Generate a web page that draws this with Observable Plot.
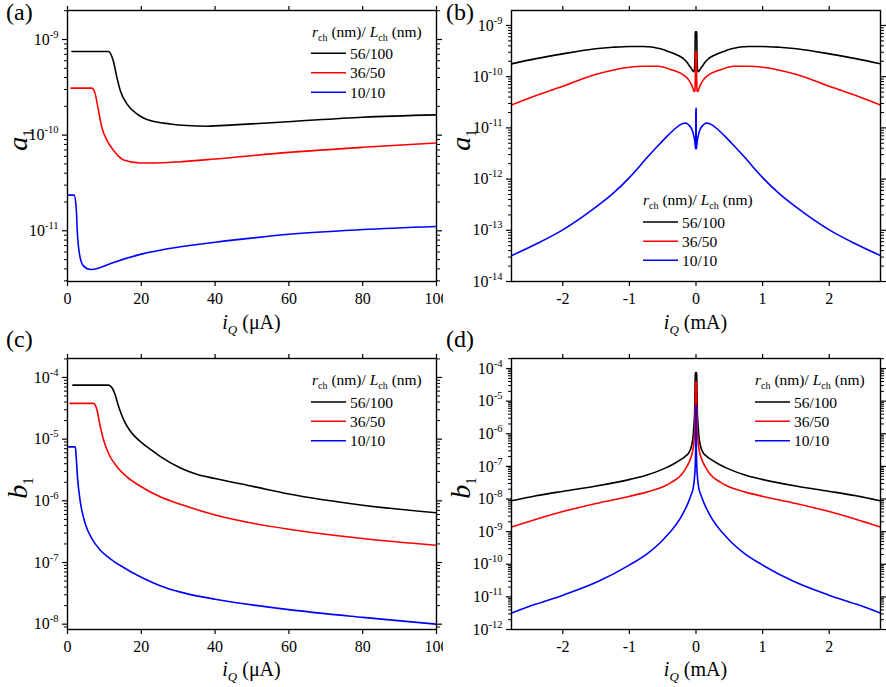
<!DOCTYPE html>
<html><head><meta charset="utf-8">
<script src="https://cdn.jsdelivr.net/npm/d3@7"></script>
<script src="https://cdn.jsdelivr.net/npm/@observablehq/plot@0.6"></script>
<style>
body{margin:0;background:#fff;}
#fig{position:relative;width:886px;height:687px;font-family:'Liberation Serif','Tinos','Times New Roman','DejaVu Serif',serif;background:#fff;}
#fig > div{position:absolute;}
#fig svg, #fig svg text{font-family:'Liberation Serif','Tinos','Times New Roman','DejaVu Serif',serif !important;}
#ann{position:absolute;left:0;top:0;pointer-events:none;}
</style></head><body><div id="fig"></div>
<script>
// ---------------- data ----------------
const seriesNames = ["56/100", "36/50", "10/10"];
const seriesColors = ["#000000", "#ff0000", "#0000ff"];

// (a) a1 vs iQ (µA)
const a_56 = [[1.2,7.5e-10],[11.1,7.5e-10],[12.4,6.0e-10],[13.4,4.0e-10],[14.3,2.93e-10],[16.1,2.12e-10],[18.8,1.67e-10],[22.4,1.42e-10],[27.8,1.31e-10],[32.4,1.26e-10],[37.8,1.24e-10],[45,1.28e-10],[59.5,1.38e-10],[80,1.54e-10],[100,1.63e-10]];
const a_36 = [[1.0,3.1e-10],[6.6,3.1e-10],[7.5,2.7e-10],[8.4,1.81e-10],[9.3,1.21e-10],[10.7,8.8e-11],[12.5,6.9e-11],[15.2,5.5e-11],[19.7,5.12e-11],[23.3,5.12e-11],[30.6,5.28e-11],[40,5.63e-11],[60,6.6e-11],[80,7.46e-11],[100,8.28e-11]];
const a_10 = [[0.3,2.36e-11],[1.8,2.36e-11],[2.35,1.75e-11],[2.7,9.2e-12],[3.25,5.7e-12],[4.3,4.3e-12],[6.3,3.94e-12],[8.9,4.13e-12],[12.5,4.67e-12],[20,5.7e-12],[30.6,6.8e-12],[40,7.6e-12],[50,8.4e-12],[60,9.2e-12],[80,1.03e-11],[100,1.11e-11]];

// (b) a1 vs iQ (mA), positive half (curve is symmetric about 0)
const b_56 = [[0.001,7.5e-10],[0.011,7.5e-10],[0.0124,6.0e-10],[0.0134,4.0e-10],[0.0143,2.9e-10],[0.0161,2.1e-10],[0.0188,1.67e-10],[0.0224,1.42e-10],[0.0278,1.31e-10],[0.037,1.25e-10],[0.05,1.3e-10],[0.07,1.45e-10],[0.1,1.63e-10],[0.135,1.92e-10],[0.2,2.3e-10],[0.285,2.66e-10],[0.4,3.05e-10],[0.535,3.5e-10],[0.785,3.89e-10],[1.0,3.89e-10],[1.25,3.75e-10],[1.51,3.5e-10],[2.0,2.79e-10],[2.4,2.25e-10],[2.77,1.78e-10]];
const b_36 = [[0.001,3.1e-10],[0.0066,3.1e-10],[0.0075,2.7e-10],[0.0084,1.81e-10],[0.0093,1.21e-10],[0.0107,8.8e-11],[0.0125,6.9e-11],[0.0152,5.5e-11],[0.0197,5.12e-11],[0.0233,5.12e-11],[0.0306,5.28e-11],[0.04,5.63e-11],[0.06,6.6e-11],[0.08,7.46e-11],[0.1,8.28e-11],[0.185,1.07e-10],[0.335,1.32e-10],[0.585,1.6e-10],[0.8,1.6e-10],[1.0,1.53e-10],[1.51,1.1e-10],[2.0,6.5e-11],[2.4,4.3e-11],[2.77,2.8e-11]];
const b_10 = [[0.0003,2.4e-11],[0.0018,2.4e-11],[0.00235,1.75e-11],[0.0027,9.2e-12],[0.00325,5.7e-12],[0.0043,4.3e-12],[0.0063,3.94e-12],[0.0089,4.13e-12],[0.0125,4.67e-12],[0.02,5.7e-12],[0.0306,6.8e-12],[0.04,7.6e-12],[0.06,9.2e-12],[0.08,1.03e-11],[0.1,1.11e-11],[0.15,1.24e-11],[0.228,1.17e-11],[0.328,9.3e-12],[0.418,7.2e-12],[0.53,5.1e-12],[0.735,2.63e-12],[0.82,1.95e-12],[1.0,1.07e-12],[1.25,5.2e-13],[1.51,2.8e-13],[2.0,1.02e-13],[2.4,5.4e-14],[2.77,3.2e-14]];

// (c) b1 vs iQ (µA)
const c_56 = [[1.45,7.5e-5],[11.1,7.5e-5],[12.0,6.9e-5],[12.8,5.5e-5],[13.6,3.8e-5],[14.5,2.63e-5],[15.5,1.9e-5],[16.8,1.41e-5],[18.3,1.1e-5],[20,8.9e-6],[22.5,6.8e-6],[25.1,5.25e-6],[30.6,3.4e-6],[35,2.7e-6],[40,2.3e-6],[50.5,1.7e-6],[60,1.29e-6],[80,8.5e-7],[100,6.4e-7]];
const c_36 = [[0.7,3.8e-5],[7.05,3.8e-5],[8,2.95e-5],[8.9,1.58e-5],[9.8,9.6e-6],[11.1,5.9e-6],[13.4,3.56e-6],[16.1,2.45e-6],[20,1.69e-6],[25.1,1.16e-6],[30.6,8.8e-7],[40,5.9e-7],[50.5,4.3e-7],[60,3.47e-7],[80,2.45e-7],[100,1.9e-7]];
const c_10 = [[0.3,7.5e-6],[2.1,7.5e-6],[2.35,5.2e-6],[2.7,2.45e-6],[3.4,1.03e-6],[4.8,4.3e-7],[6.6,2.44e-7],[8.9,1.58e-7],[11.6,1.15e-7],[15.2,8.3e-8],[20,5.75e-8],[25.1,4.2e-8],[30.6,3.31e-8],[35,2.88e-8],[40,2.54e-8],[50.5,2.04e-8],[60,1.72e-8],[80,1.29e-8],[100,1.0e-8]];

// (d) b1 vs iQ (mA), positive half (curve is symmetric about 0)
const d_56 = [[0.001,7.5e-5],[0.011,7.5e-5],[0.015,2e-5],[0.02,5e-6],[0.03,2e-6],[0.045,8e-7],[0.07,4e-7],[0.1,2.8e-7],[0.165,2.0e-7],[0.219,1.66e-7],[0.364,1.1e-7],[0.469,8.7e-8],[0.76,5.25e-8],[0.99,4.0e-8],[1.5,2.5e-8],[1.985,1.74e-8],[2.4,1.26e-8],[2.77,8.8e-9]];
const d_36 = [[0.001,3.8e-5],[0.007,3.8e-5],[0.01,8e-6],[0.015,2e-6],[0.025,8e-7],[0.04,4e-7],[0.065,2.2e-7],[0.1,1.4e-7],[0.165,8.0e-8],[0.219,5.5e-8],[0.364,3.3e-8],[0.469,2.5e-8],[0.76,1.6e-8],[0.99,1.22e-8],[1.5,7.3e-9],[1.985,4.2e-9],[2.4,2.4e-9],[2.77,1.38e-9]];
const d_10 = [[0.0005,7.5e-6],[0.002,7.5e-6],[0.003,1.5e-6],[0.006,3e-7],[0.012,1e-7],[0.025,4e-8],[0.045,2e-8],[0.07,1.4e-8],[0.12,7.5e-9],[0.219,2.95e-9],[0.469,6.4e-10],[0.72,2.2e-10],[0.99,9.7e-11],[1.463,3.0e-11],[1.985,1.15e-11],[2.4,6.0e-12],[2.77,3.2e-12]];

// axis ticks
const xTicksUA = [0, 20, 40, 60, 80, 100];
const xTicksMA = [-2, -1, 0, 1, 2];

// ---------------- helpers ----------------
const FONT = "'Liberation Serif','Tinos','Times New Roman','DejaVu Serif',serif";
const mirror = arr => [...arr.slice().reverse().map(([x, y]) => [-x, y]), ...arr];
function majorsMinors([lo, hi]) {
  const maj = [], min = [];
  for (let k = Math.floor(Math.log10(lo)); k <= Math.ceil(Math.log10(hi)); k++) {
    const p = Math.pow(10, k);
    if (p >= lo * 0.999 && p <= hi * 1.001) maj.push(p);
    for (let m = 2; m <= 9; m++) { const v = m * p; if (v >= lo && v <= hi) min.push(v); }
  }
  return [maj, min];
}

const fig = document.getElementById("fig");

function panel({left, top, width, height, margin, xDomain, yDomain, xTicks, series}) {
  const [maj, min] = majorsMinors(yDomain);
  const rows = [];
  series.forEach((arr, i) => arr.forEach(([x, y]) => rows.push({x, y, s: seriesNames[i]})));
  const blank = () => "";
  const chart = Plot.plot({
    width, height,
    marginLeft: margin[0], marginRight: margin[1], marginTop: margin[2], marginBottom: margin[3],
    style: {fontFamily: FONT, fontSize: "16px", background: "white", color: "black", overflow: "visible"},
    x: {domain: xDomain},
    y: {type: "log", domain: yDomain},
    color: {domain: seriesNames, range: seriesColors},
    marks: [
      Plot.axisX({ticks: xTicks, tickSize: 5, tickPadding: 6, tickFormat: d => String(d), label: null, strokeWidth: 1.2}),
      Plot.axisX({anchor: "top", ticks: xTicks, tickSize: 5, tickFormat: blank, label: null, strokeWidth: 1.2}),
      Plot.axisY({ticks: maj, tickSize: 5, tickPadding: 4, tickFormat: d => "10^" + Math.round(Math.log10(d)), label: null, strokeWidth: 1.2}),
      Plot.axisY({ticks: min, tickSize: 3, tickFormat: blank, label: null}),
      Plot.axisY({anchor: "right", ticks: maj, tickSize: 5, tickFormat: blank, label: null, strokeWidth: 1.2}),
      Plot.axisY({anchor: "right", ticks: min, tickSize: 3, tickFormat: blank, label: null}),
      Plot.line(rows, {x: "x", y: "y", z: "s", stroke: "s", strokeWidth: 1.6, curve: "monotone-x", clip: true}),
      Plot.frame({stroke: "black", strokeWidth: 1.4})
    ]
  });
  d3.select(chart).selectAll('g[aria-label="y-axis tick label"] text').each(function () {
    const s = this.textContent;
    if (!s.includes("^")) return;
    const [b, e] = s.split("^");
    this.textContent = b;
    d3.select(this).append("tspan").attr("dy", "-7").attr("font-size", "10.5px").text(e);
  });
  const div = document.createElement("div");
  div.style.left = left + "px"; div.style.top = top + "px";
  div.appendChild(chart);
  fig.appendChild(div);
}

panel({left: 0, top: 0, width: 443, height: 343, margin: [67, 7, 10, 62], xDomain: [0, 100], yDomain: [2.95e-12, 2.01e-9], xTicks: xTicksUA, series: [a_56, a_36, a_10]});
panel({left: 443, top: 0, width: 443, height: 343, margin: [68, 6, 10, 62], xDomain: [-2.77, 2.77], yDomain: [1e-14, 1.96e-9], xTicks: xTicksMA, series: [mirror(b_56), mirror(b_36), mirror(b_10)]});
panel({left: 0, top: 343, width: 443, height: 344, margin: [67, 7, 15, 58], xDomain: [0, 100], yDomain: [8.2e-9, 2.03e-4], xTicks: xTicksUA, series: [c_56, c_36, c_10]});
panel({left: 443, top: 343, width: 443, height: 344, margin: [68, 6, 15, 58], xDomain: [-2.77, 2.77], yDomain: [1e-12, 2.03e-4], xTicks: xTicksMA, series: [mirror(d_56), mirror(d_36), mirror(d_10)]});

// ---------------- annotations ----------------
const ann = d3.select(fig).append("svg").attr("id", "ann").attr("width", 886).attr("height", 687)
  .attr("font-family", FONT);

function rich(x, y, segs, {size = 16, sub = 10, shift = 4, anchor = "start", rotate = 0} = {}) {
  const t = ann.append("text").attr("font-size", size).attr("text-anchor", anchor).attr("fill", "black");
  if (rotate) t.attr("transform", `translate(${x},${y}) rotate(${rotate})`);
  else t.attr("x", x).attr("y", y);
  let lowered = false;
  segs.forEach(sg => {
    const ts = t.append("tspan").text(sg.t);
    if (sg.i) ts.attr("font-style", "italic");
    if (sg.sub) { ts.attr("font-size", sub); if (!lowered) { ts.attr("dy", shift); lowered = true; } }
    else if (lowered) { ts.attr("dy", -shift); lowered = false; }
  });
  return t;
}

// panel letters
[["(a)", 6, 20], ["(b)", 446, 20], ["(c)", 6, 347], ["(d)", 446, 347]].forEach(([s, x, y]) =>
  ann.append("text").attr("x", x).attr("y", y).attr("font-size", 24).text(s));

// x-axis labels
const xl = (x, y, unit) => rich(x, y, [{t: "i", i: true}, {t: "Q", i: true, sub: true}, {t: " (" + unit + ")"}], {size: 20, sub: 13, shift: 5, anchor: "middle"});
xl(251.5, 329, "μA"); xl(695.5, 329, "mA"); xl(251.5, 676, "μA"); xl(695.5, 676, "mA");

// y-axis labels
const yl = (x, y, s) => rich(x, y, [{t: s, i: true}, {t: "1", sub: true}], {size: 28, sub: 15, shift: 6, anchor: "middle", rotate: -90});
yl(27, 140, "a"); yl(470, 140, "a"); yl(27, 488, "b"); yl(470, 488, "b");

// legends
function legend(tx, tyc, lx0, lx1, labx, rowsC) {
  rich(tx, tyc + 5, [{t: "r", i: true}, {t: "ch", sub: true}, {t: " (nm)/ "}, {t: "L", i: true}, {t: "ch", sub: true}, {t: " (nm)"}], {size: 15.5, sub: 10, shift: 4});
  rowsC.forEach((yc, i) => {
    ann.append("line").attr("x1", lx0).attr("x2", lx1).attr("y1", yc).attr("y2", yc).attr("stroke", seriesColors[i]).attr("stroke-width", 1.6);
    ann.append("text").attr("x", labx).attr("y", yc + 5.5).attr("font-size", 15.5).text(seriesNames[i]);
  });
}
legend(312, 32, 311, 346, 350, [53.3, 72.7, 92.3]);
legend(643, 200, 643, 678, 682, [222, 241.3, 260.3]);
legend(312, 380, 311, 346, 350, [402, 421.3, 440.7]);
legend(755, 380, 755, 790, 794, [402, 421.3, 440.7]);
</script></body></html>
